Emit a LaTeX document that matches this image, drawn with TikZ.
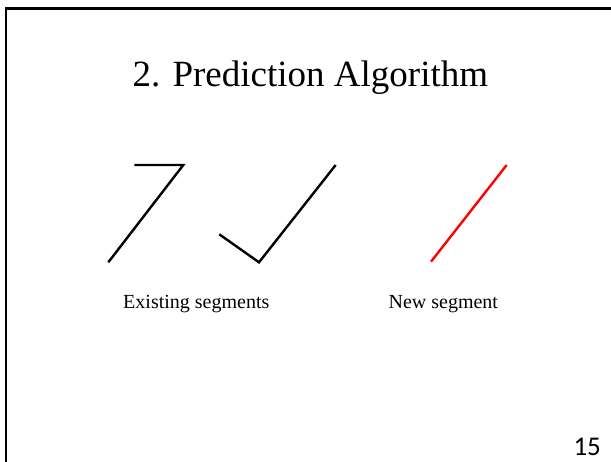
\documentclass[tikz,border=0pt]{standalone}
\usepackage{fontspec}
\setmainfont{Liberation Serif}
\newfontfamily\numfont{Carlito}
\begin{document}
\begin{tikzpicture}[x=1pt,y=-1pt]
  \definecolor{segstroke}{RGB}{0,0,0}
  \definecolor{newstroke}{RGB}{255,0,0}
  \useasboundingbox (0,0) rectangle (611,462);
  % slide frame
  \draw[black,line width=2.6pt] (6,462) -- (6,8.5) -- (611,8.5);
  % existing segments
  \coordinate (SevTop)  at (134.3,165);
  \coordinate (SevCorn) at (183.3,165);
  \coordinate (SevFoot) at (108.3,262.3);
  \coordinate (ChkLeft) at (219.3,234.3);
  \coordinate (ChkBot)  at (259,262.3);
  \coordinate (ChkTop)  at (335.7,165);
  \draw[segstroke,line width=2.4pt] (SevTop) -- (SevCorn) -- (SevFoot);
  \draw[segstroke,line width=2.4pt] (ChkLeft) -- (ChkBot) -- (ChkTop);
  % new segment
  \coordinate (NewBot) at (431,261.7);
  \coordinate (NewTop) at (506.7,165);
  \draw[newstroke,line width=2.4pt] (NewBot) -- (NewTop);
  % texts
  \node[anchor=base,inner sep=0pt,font=\fontsize{37}{44}\selectfont] (title) at (310.3,86.7) {2. Prediction Algorithm};
  \node[anchor=base,inner sep=0pt,font=\fontsize{20}{24}\selectfont] (existing) at (196.3,308.3) {Existing segments};
  \node[anchor=base,inner sep=0pt,font=\fontsize{20}{24}\selectfont] (newseg) at (443.3,308.3) {New segment};
  \node[anchor=base,inner sep=0pt,font=\numfont\fontsize{27}{32}\selectfont] (pagenum) at (587.2,456) {15};
\end{tikzpicture}
\end{document}
